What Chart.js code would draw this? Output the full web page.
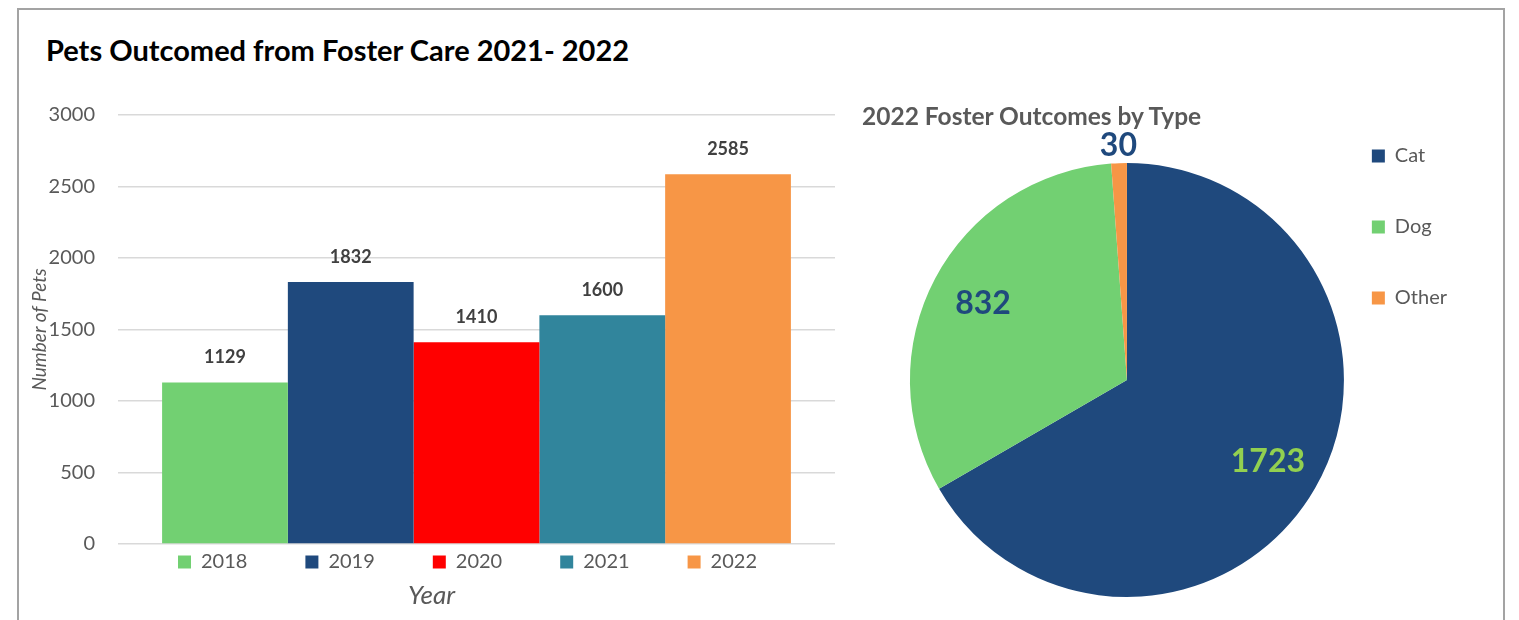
<!DOCTYPE html>
<html>
<head>
<meta charset="utf-8">
<title>Pets Outcomed from Foster Care 2021- 2022</title>
<script src="https://cdn.jsdelivr.net/npm/chart.js@4.4.1/dist/chart.umd.min.js"></script>
<style>
  html, body { margin: 0; padding: 0; background: #fff; overflow: hidden; }
  #page { position: relative; width: 1519px; height: 620px; overflow: hidden; font-family: Lato, sans-serif; }
  #frame { position: absolute; left: 17px; top: 8px; width: 1488px; height: 700px; border: 2px solid #a3a3a3; box-sizing: border-box; }
  #mainTitle { position: absolute; left: 46px; top: 34px; font-size: 29px; font-weight: bold; color: #000; line-height: 32px; white-space: nowrap; }
  #pieTitle { position: absolute; left: 862px; top: 102px; font-size: 24.5px; font-weight: bold; color: #595959; line-height: 28px; white-space: nowrap; }
  #barBox { position: absolute; left: 20px; top: 70px; width: 830px; height: 550px; }
  #pieBox { position: absolute; left: 850px; top: 70px; width: 654px; height: 595px; }
</style>
</head>
<body>
<div id="page">
  <div id="frame"></div>
  <div id="barBox"><canvas id="barChart"></canvas></div>
  <div id="pieBox"><canvas id="pieChart"></canvas></div>
  <div id="mainTitle">Pets Outcomed from Foster Care 2021- 2022</div>
  <div id="pieTitle">2022 Foster Outcomes by Type</div>
</div>
<script>
// Bar chart data
const years = ['2018', '2019', '2020', '2021', '2022'];
const petsOutcomed = [1129, 1832, 1410, 1600, 2585];
const yearColors = ['#72D072', '#1F497D', '#FF0000', '#31859C', '#F79646'];
const yTicks = [0, 500, 1000, 1500, 2000, 2500, 3000];

// Pie chart data
const petTypes = ['Cat', 'Dog', 'Other'];
const outcomes2022 = [1723, 832, 30];
const typeColors = ['#1F497D', '#72D072', '#F79646'];
const typeLabelColors = ['#92D050', '#1F497D', '#1F497D'];

Chart.defaults.font.family = 'Lato, sans-serif';
Chart.defaults.color = '#595959';

// Chart.js puts the legend label padding above the items as well as between them,
// so pull the legend's top edge back up; the wide padding then only spaces the items sideways.
const legendLift = {
    id: 'legendLift',
    afterLayout(chart, args, opts) {
        const lg = chart.legend;
        if (!lg) return;
        lg.top -= opts.by || 0;
        lg.left += opts.dx || 0;
        lg.right += opts.dx || 0;
    }
};

// Value above each bar
const barValueLabels = {
    id: 'barValueLabels',
    afterDatasetsDraw(chart) {
        const ctx = chart.ctx;
        ctx.save();
        ctx.font = 'bold 18px Lato, sans-serif';
        ctx.fillStyle = '#404040';
        ctx.textAlign = 'center';
        ctx.textBaseline = 'middle';
        chart.data.datasets.forEach((ds, i) => {
            chart.getDatasetMeta(i).data.forEach((bar, j) => {
                ctx.fillText(ds.data[j], bar.x, bar.y - 25);
            });
        });
        ctx.restore();
    }
};

// Value inside each slice (small slices get it just outside the rim)
const pieValueLabels = {
    id: 'pieValueLabels',
    afterDatasetsDraw(chart) {
        const ctx = chart.ctx;
        const meta = chart.getDatasetMeta(0);
        const values = chart.data.datasets[0].data;
        const total = values.reduce((a, b) => a + b, 0);
        ctx.save();
        ctx.font = 'bold 32px Lato, sans-serif';
        ctx.textAlign = 'center';
        ctx.textBaseline = 'middle';
        meta.data.forEach((arc, i) => {
            const p = arc.getProps(['x', 'y', 'startAngle', 'endAngle', 'outerRadius'], true);
            const mid = (p.startAngle + p.endAngle) / 2;
            const dist = values[i] / total < 0.05 ? p.outerRadius * 1.08 : p.outerRadius * 0.75;
            ctx.fillStyle = typeLabelColors[i];
            ctx.fillText(values[i], p.x + Math.cos(mid) * dist, p.y + Math.sin(mid) * dist);
        });
        ctx.restore();
    }
};

new Chart(document.getElementById('barChart'), {
    type: 'bar',
    data: {
        labels: [''],
        datasets: years.map((yr, i) => ({
            label: yr,
            data: [petsOutcomed[i]],
            backgroundColor: yearColors[i],
            categoryPercentage: 0.877,
            barPercentage: 1
        }))
    },
    options: {
        responsive: true,
        maintainAspectRatio: false,
        animation: false,
        layout: {
            padding: { left: 8, right: 15, top: 45, bottom: 8.4 }
        },
        plugins: {
            legend: {
                position: 'bottom',
                fullSize: false,
                maxHeight: 30,
                labels: {
                    boxWidth: 13,
                    boxHeight: 13,
                    padding: 58,
                    color: '#595959',
                    font: { size: 20 }
                }
            },
            legendLift: { by: 50, dx: -9 },
            title: {
                display: true,
                text: 'Year',
                position: 'bottom',
                color: '#595959',
                font: { size: 26, style: 'italic', weight: 'normal' },
                padding: { top: 6.4, bottom: 0 }
            },
            tooltip: { enabled: false }
        },
        scales: {
            x: { display: false },
            y: {
                min: yTicks[0],
                max: yTicks[yTicks.length - 1],
                afterFit: (scale) => { scale.width = 90; },
                ticks: {
                    stepSize: yTicks[1] - yTicks[0],
                    color: '#595959',
                    padding: 23,
                    font: { size: 20 },
                    callback: (v) => String(v)
                },
                grid: {
                    color: '#D9D9D9',
                    lineWidth: 1.5,
                    drawTicks: false
                },
                border: { display: false },
                title: {
                    display: true,
                    text: 'Number of Pets',
                    color: '#595959',
                    font: { size: 19, style: 'italic' },
                    padding: { top: 0, bottom: 1 }
                }
            }
        }
    },
    plugins: [legendLift, barValueLabels]
});

new Chart(document.getElementById('pieChart'), {
    type: 'pie',
    data: {
        labels: petTypes,
        datasets: [{
            data: outcomes2022,
            backgroundColor: typeColors,
            borderWidth: 0,
            radius: 217
        }]
    },
    options: {
        responsive: true,
        maintainAspectRatio: false,
        animation: false,
        layout: {
            padding: { left: 83, top: 25, right: 47, bottom: 0 }
        },
        plugins: {
            legend: {
                position: 'right',
                align: 'start',
                labels: {
                    boxWidth: 13,
                    boxHeight: 13,
                    padding: 51,
                    color: '#595959',
                    font: { size: 20 }
                }
            },
            tooltip: { enabled: false }
        }
    },
    plugins: [pieValueLabels]
});
</script>
</body>
</html>
